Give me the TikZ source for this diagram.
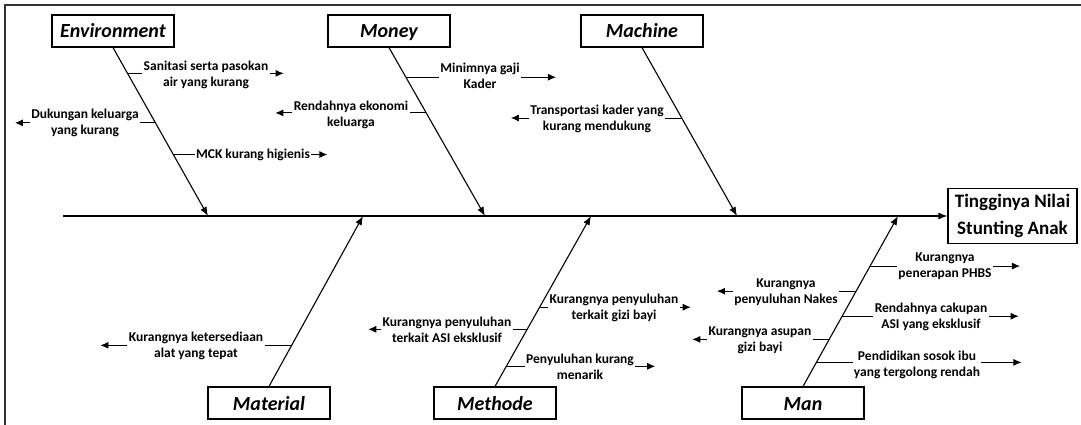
\documentclass[tikz,border=0pt]{standalone}
\usepackage{fontspec}
\setmainfont{Carlito}
\usetikzlibrary{arrows.meta,calc}
\begin{document}
\begin{tikzpicture}[x=1pt, y=-1pt, thick,
    cause/.style = {draw, line width=1.2pt, minimum width=122pt, minimum height=32pt, inner sep=0pt, text height=15pt, text depth=1pt, font=\fontsize{20}{22}\selectfont\bfseries\itshape},
    effect/.style = {draw, line width=1.2pt, minimum width=129pt, minimum height=55pt, inner sep=2pt, align=center, font=\fontsize{19}{27}\selectfont\bfseries},
    sub/.style = {inner sep=1pt, align=center, font=\fontsize{13.5}{16}\selectfont\bfseries},
    bone/.style = {line width=1.1pt, -{Latex[length=9pt,width=7pt]}},
    tick/.style = {line width=0.9pt},
    arr/.style = {line width=0.9pt, -{Latex[length=8pt,width=7pt]}}]
        \useasboundingbox (0,0) rectangle (1081,425);
        \draw[line width=1.4pt, black!80] (5,425) -- (5,5) -- (1081,5);

        % head and spine
        \node[effect] (effect) at (1012.5,216) {Tingginya Nilai\\Stunting Anak};
        \coordinate (tail) at (63,216);
        \draw[bone] (tail) -- (effect.west);

        % categories
        \node[cause] (env) at (113,31) {Environment};
        \node[cause] (money) at (389,31) {Money};
        \node[cause] (machine) at (642,31) {Machine};
        \node[cause] (material) at (269,403) {Material};
        \node[cause] (methode) at (495,403) {Methode};
        \node[cause] (man) at (803,403) {Man};

        \coordinate (envhead) at (208,216);
        \coordinate (moneyhead) at (485,216);
        \coordinate (machinehead) at (737,216);
        \coordinate (materialhead) at (363,216);
        \coordinate (methodehead) at (591,216);
        \coordinate (manhead) at (898,216);

        \draw[bone] (env.south) -- (envhead);
        \draw[bone] (money.south) -- (moneyhead);
        \draw[bone] (machine.south) -- (machinehead);
        \draw[bone] (material.north) -- (materialhead);
        \draw[bone] (methode.north) -- (methodehead);
        \draw[bone] (man.north) -- (manhead);

        % Environment
        \node[sub] (s1) at (206,75) {Sanitasi serta pasokan\\air yang kurang};
        \node[sub] (s2) at (85,123) {Dukungan keluarga\\yang kurang};
        \node[sub] (s3) at (253,155) {MCK kurang higienis};
        \coordinate (e1) at ($(env.south)!0.153!(envhead)$);
        \coordinate (e2) at ($(env.south)!0.447!(envhead)$);
        \coordinate (e3) at ($(env.south)!0.635!(envhead)$);
        \draw[tick] (e1) -- (e1 -| s1.west);
        \draw[tick] (e2) -- (e2 -| s2.east);
        \draw[tick] (e3) -- (e3 -| s3.west);
        \draw[arr] (s1.east |- e1) -- ++(14,0);
        \draw[arr] (s2.west |- e2) -- ++(-15,0);
        \draw[arr] (s3.east |- e3) -- ++(16,0);

        % Money
        \node[sub] (m1) at (480,76) {Minimnya gaji\\Kader};
        \node[sub] (m2) at (351,114.5) {Rendahnya ekonomi\\keluarga};
        \coordinate (o1) at ($(money.south)!0.176!(moneyhead)$);
        \coordinate (o2) at ($(money.south)!0.388!(moneyhead)$);
        \draw[tick] (o1) -- (o1 -| m1.west);
        \draw[tick] (o2) -- (o2 -| m2.east);
        \draw[arr] (m1.east |- o1) -- ++(35,0);
        \draw[arr] (m2.west |- o2) -- ++(-17,0);

        % Machine
        \node[sub] (c1) at (597,119) {Transportasi kader yang\\kurang mendukung};
        \coordinate (a1) at ($(machine.south)!0.418!(machinehead)$);
        \draw[tick] (a1) -- (a1 -| c1.east);
        \draw[arr] (c1.west |- a1) -- ++(-18,0);

        % Material
        \node[sub] (t1) at (196,346) {Kurangnya ketersediaan\\alat yang tepat};
        \coordinate (r1) at ($(material.north)!0.241!(materialhead)$);
        \draw[tick] (r1) -- (r1 -| t1.east);
        \draw[arr] (t1.west |- r1) -- ++(-27,0);

        % Methode
        \node[sub] (d1) at (614,308) {Kurangnya penyuluhan\\terkait gizi bayi};
        \node[sub] (d2) at (447,330) {Kurangnya penyuluhan\\terkait ASI eksklusif};
        \node[sub] (d3) at (580,367) {Penyuluhan kurang\\menarik};
        \coordinate (h1) at ($(methode.north)!0.465!(methodehead)$);
        \coordinate (h2) at ($(methode.north)!0.335!(methodehead)$);
        \coordinate (h3) at ($(methode.north)!0.118!(methodehead)$);
        \draw[tick] (h1) -- (h1 -| d1.west);
        \draw[tick] (h2) -- (h2 -| d2.east);
        \draw[tick] (h3) -- (h3 -| d3.west);
        \draw[arr] (d1.east |- h1) -- ++(11,0);
        \draw[arr] (d2.west |- h2) -- ++(-13,0);
        \draw[arr] (d3.east |- h3) -- ++(20,0);

        % Man
        \node[sub] (n1) at (945,266) {Kurangnya\\penerapan PHBS};
        \node[sub] (n2) at (786,292) {Kurangnya\\penyuluhan Nakes};
        \node[sub] (n3) at (931,316.5) {Rendahnya cakupan\\ASI yang eksklusif};
        \node[sub] (n4) at (760,340) {Kurangnya asupan\\gizi bayi};
        \node[sub] (n5) at (917,364.5) {Pendidikan sosok ibu\\yang tergolong rendah};
        \coordinate (u1) at ($(man.north)!0.706!(manhead)$);
        \coordinate (u2) at ($(man.north)!0.559!(manhead)$);
        \coordinate (u3) at ($(man.north)!0.412!(manhead)$);
        \coordinate (u4) at ($(man.north)!0.276!(manhead)$);
        \coordinate (u5) at ($(man.north)!0.141!(manhead)$);
        \draw[tick] (u1) -- (u1 -| n1.west);
        \draw[tick] (u2) -- (u2 -| n2.east);
        \draw[tick] (u3) -- (u3 -| n3.west);
        \draw[tick] (u4) -- (u4 -| n4.east);
        \draw[tick] (u5) -- (u5 -| n5.west);
        \draw[arr] (n1.east |- u1) -- ++(27,0);
        \draw[arr] (n2.west |- u2) -- ++(-16,0);
        \draw[arr] (n3.east |- u3) -- ++(30,0);
        \draw[arr] (n4.west |- u4) -- ++(-15,0);
        \draw[arr] (n5.east |- u5) -- ++(40,0);
    \end{tikzpicture}
\end{document}
